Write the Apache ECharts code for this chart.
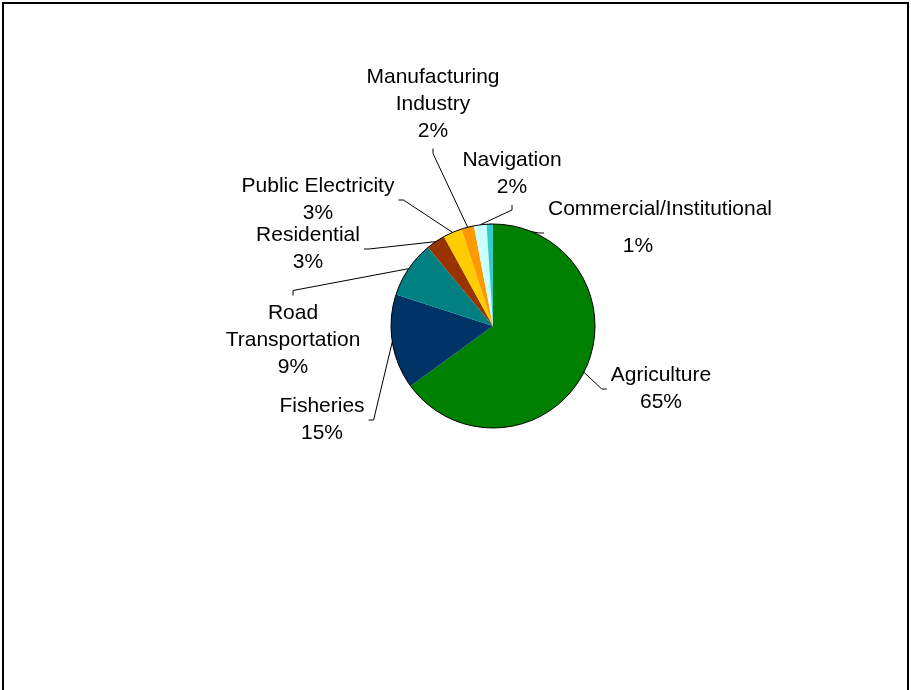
<!DOCTYPE html>
<html>
<head>
<meta charset="utf-8">
<title>Emissions by sector</title>
<script src="https://cdn.jsdelivr.net/npm/echarts@6/dist/echarts.min.js"></script>
<style>
  html, body { margin: 0; padding: 0; background: #fff; }
  #chart { width: 911px; height: 690px; }
</style>
</head>
<body>
<div id="chart"></div>
<script>
// Sector names, clockwise from twelve o'clock
const sectors = [
  'Agriculture',
  'Fisheries',
  'Road Transportation',
  'Residential',
  'Public Electricity',
  'Manufacturing Industry',
  'Navigation',
  'Commercial/Institutional'
];
// Share of the total, in percent
const shares = [65, 15, 9, 3, 3, 2, 2, 1];
// Slice fills
const sliceColors = ['#008000', '#003366', '#008080', '#993300', '#FFCC00', '#FF9900', '#CCFFFF', '#33CCCC'];
// Names whose label breaks onto two lines
const wrappedNames = ['Manufacturing Industry', 'Road Transportation'];

// Label block centres and the side each leader line meets (layout only)
const labelCentres = [
  [661, 389], [322, 420], [293, 340], [308, 249],
  [318, 200], [433, 104], [512, 174], [660, 233]
];
const leaderSides = ['left', 'right', 'top', 'right', 'right', 'bottom', 'bottom', 'left'];

const PIE_CENTER = [493, 326];
const PIE_RADIUS = 102;
const FONT = '"Liberation Sans", Arial, Helvetica, sans-serif';
const FONT_SIZE = 21;
const LEADER_GAP = 4;
const LEADER_TICK = 5;

const chart = echarts.init(document.getElementById('chart'), null, { renderer: 'canvas' });

// Leader line: from the slice edge to a short tick that stops just off the label
function leaderPoints(start, rect, side) {
  const cx = rect.x + rect.width / 2;
  const cy = rect.y + rect.height / 2;
  let end, bend;
  if (side === 'left') {
    end = [rect.x - LEADER_GAP, cy];
    bend = [end[0] - LEADER_TICK, cy];
  } else if (side === 'right') {
    end = [rect.x + rect.width + LEADER_GAP, cy];
    bend = [end[0] + LEADER_TICK, cy];
  } else if (side === 'top') {
    end = [cx, rect.y - LEADER_GAP];
    bend = [cx, end[1] - LEADER_TICK];
  } else {
    end = [cx, rect.y + rect.height + LEADER_GAP];
    bend = [cx, end[1] + LEADER_TICK];
  }
  return [start, bend, end];
}

const option = {
  backgroundColor: '#ffffff',
  animation: false,
  graphic: [{
    type: 'rect',
    shape: { x: 3, y: 3, width: 905, height: 720 },
    style: { fill: 'none', stroke: '#000', lineWidth: 2 },
    silent: true,
    z: 100
  }],
  series: [
    {
      type: 'pie',
      center: PIE_CENTER,
      radius: PIE_RADIUS,
      startAngle: 90,
      clockwise: true,
      percentPrecision: 0,
      avoidLabelOverlap: false,
      itemStyle: { borderWidth: 0 },
      emphasis: { disabled: true },
      label: {
        show: true,
        fontFamily: FONT,
        fontSize: FONT_SIZE,
        lineHeight: 27,
        color: '#000',
        align: 'center',
        formatter: function (p) {
          if (p.name === 'Commercial/Institutional') {
            return '{n|' + p.name + '}\n{p|' + p.percent + '%}';
          }
          const name = wrappedNames.indexOf(p.name) >= 0 ? p.name.replace(' ', '\n') : p.name;
          return name + '\n' + p.percent + '%';
        },
        rich: {
          n: { fontFamily: FONT, fontSize: FONT_SIZE, lineHeight: 27, color: '#000' },
          p: { fontFamily: FONT, fontSize: FONT_SIZE, lineHeight: 47, color: '#000', padding: [0, 44, 0, 0] }
        }
      },
      labelLine: {
        show: true,
        length: 10,
        length2: 8,
        smooth: false,
        lineStyle: { color: '#000', width: 1 }
      },
      labelLayout: function (params) {
        const i = params.dataIndex;
        const c = labelCentres[i];
        const w = params.labelRect.width;
        const h = params.labelRect.height;
        const rect = { x: c[0] - w / 2, y: c[1] - h / 2, width: w, height: h };
        const start = params.labelLinePoints ? params.labelLinePoints[0] : c;
        return {
          x: c[0],
          y: c[1],
          align: 'center',
          verticalAlign: 'middle',
          labelLinePoints: leaderPoints(start, rect, leaderSides[i])
        };
      },
      data: sectors.map(function (name, i) {
        return { name: name, value: shares[i], itemStyle: { color: sliceColors[i] } };
      })
    },
    {
      // thin outline round the whole pie
      type: 'pie',
      center: PIE_CENTER,
      radius: PIE_RADIUS,
      silent: true,
      z: 3,
      label: { show: false },
      labelLine: { show: false },
      emphasis: { disabled: true },
      itemStyle: { color: 'rgba(0,0,0,0)', borderColor: '#000', borderWidth: 1 },
      data: [{ value: 1, name: 'outline' }]
    }
  ]
};

chart.setOption(option);
</script>
</body>
</html>
